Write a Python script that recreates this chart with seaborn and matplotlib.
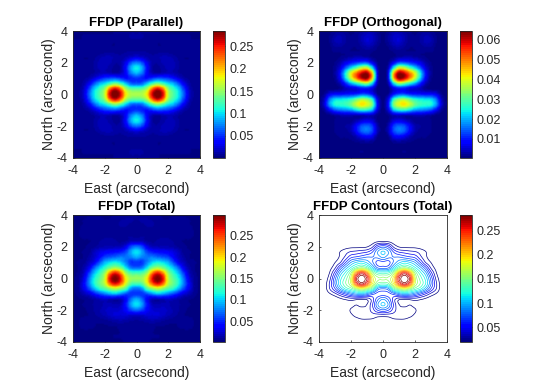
import numpy as np
import matplotlib
matplotlib.use('Agg')
import matplotlib.pyplot as plt
import seaborn as sns

# grid step is 1/3 arcsecond
# columns: x = 0 .. 4 (right half, the left half is the mirror image)
x_half = np.arange(13) / 3
ticks = [-4, -2, 0, 2, 4]

# parallel, in 1e-3, rows y = 0 .. 4 (same above and below)
parallel_half = np.array([
    [160, 160, 188, 262, 292, 262, 165, 128, 102, 62, 22, 8, 5],
    [130, 132, 158, 225, 258, 225, 148, 118, 92, 52, 18, 7, 5],
    [62, 64, 92, 122, 140, 122, 100, 85, 60, 30, 12, 6, 5],
    [50, 45, 40, 52, 60, 58, 52, 40, 25, 12, 8, 6, 5],
    [90, 72, 35, 15, 12, 15, 18, 15, 10, 7, 6, 5, 5],
    [105, 85, 40, 12, 8, 12, 15, 15, 10, 7, 6, 5, 5],
    [70, 58, 28, 12, 10, 15, 18, 15, 10, 6, 5, 5, 5],
    [25, 20, 14, 10, 12, 15, 15, 12, 8, 5, 5, 5, 5],
    [10, 10, 9, 8, 8, 8, 8, 6, 6, 8, 8, 5, 5],
    [6, 6, 6, 6, 5, 5, 5, 5, 6, 8, 8, 5, 5],
    [8, 8, 8, 6, 5, 5, 5, 5, 5, 5, 5, 5, 5],
    [10, 10, 8, 6, 5, 5, 5, 5, 5, 5, 5, 4, 4],
    [8, 8, 6, 5, 5, 4, 4, 4, 4, 4, 4, 4, 4],
])

# orthogonal, in 1e-4, rows y = 4 .. -4
orthogonal_half = np.array([
    [10, 15, 30, 30, 20, 15, 10, 15, 20, 15, 10, 10, 5],
    [10, 25, 45, 50, 35, 20, 15, 25, 35, 30, 15, 10, 5],
    [10, 25, 45, 55, 35, 20, 15, 25, 40, 35, 15, 10, 5],
    [8, 15, 30, 35, 25, 15, 15, 20, 25, 25, 12, 8, 5],
    [5, 10, 15, 20, 15, 15, 15, 15, 15, 15, 10, 5, 5],
    [5, 8, 15, 30, 35, 35, 30, 20, 15, 10, 8, 5, 5],
    [5, 15, 70, 130, 130, 110, 90, 65, 30, 15, 8, 5, 5],
    [8, 40, 230, 380, 370, 290, 220, 140, 60, 20, 8, 5, 5],
    [8, 70, 440, 620, 590, 500, 400, 240, 95, 25, 8, 5, 5],
    [8, 70, 440, 630, 600, 500, 380, 220, 85, 20, 8, 5, 5],
    [5, 35, 220, 340, 310, 250, 190, 110, 40, 12, 6, 5, 5],
    [5, 10, 60, 85, 85, 60, 50, 40, 18, 12, 10, 6, 5],
    [5, 20, 90, 130, 135, 110, 100, 95, 90, 90, 70, 20, 6],
    [10, 70, 260, 340, 360, 310, 260, 240, 230, 220, 160, 45, 8],
    [12, 90, 320, 400, 430, 380, 310, 270, 260, 250, 180, 55, 8],
    [8, 60, 200, 250, 260, 225, 185, 170, 160, 135, 80, 22, 5],
    [5, 15, 40, 45, 40, 35, 40, 40, 35, 25, 12, 6, 5],
    [5, 15, 55, 70, 55, 35, 20, 20, 20, 15, 10, 5, 5],
    [5, 35, 120, 150, 135, 85, 35, 25, 20, 15, 10, 8, 5],
    [5, 40, 130, 160, 145, 85, 35, 20, 18, 15, 10, 8, 5],
    [5, 15, 70, 85, 70, 40, 20, 15, 15, 12, 10, 8, 5],
    [5, 8, 20, 25, 20, 15, 12, 12, 12, 12, 10, 8, 5],
    [5, 5, 8, 10, 12, 10, 10, 10, 10, 10, 8, 5, 5],
    [5, 5, 6, 10, 15, 12, 10, 10, 10, 8, 6, 5, 5],
    [5, 5, 5, 6, 8, 8, 6, 6, 6, 5, 5, 5, 5],
])

# total, in 1e-3, rows y = 4 .. -4
total_half = np.array([
    [9, 10, 9, 8, 7, 6, 5, 6, 6, 6, 5, 5, 5],
    [11, 12, 12, 11, 9, 7, 7, 8, 9, 8, 7, 5, 5],
    [9, 10, 12, 12, 9, 7, 7, 8, 9, 9, 7, 6, 5],
    [7, 8, 9, 10, 8, 7, 7, 7, 9, 11, 9, 6, 5],
    [10, 11, 11, 10, 10, 10, 10, 8, 8, 10, 9, 6, 5],
    [19, 17, 12, 10, 12, 13, 13, 11, 9, 6, 6, 5, 5],
    [71, 60, 30, 18, 16, 16, 16, 14, 10, 8, 6, 5, 5],
    [106, 89, 60, 46, 42, 38, 35, 28, 20, 9, 7, 6, 5],
    [91, 78, 75, 76, 70, 64, 58, 38, 22, 13, 7, 6, 5],
    [56, 54, 78, 100, 112, 105, 90, 62, 33, 19, 9, 7, 6],
    [70, 74, 108, 145, 160, 145, 120, 95, 66, 31, 14, 7, 6],
    [130, 132, 162, 228, 262, 228, 158, 122, 94, 53, 20, 8, 6],
    [161, 162, 194, 268, 298, 268, 175, 138, 111, 70, 28, 10, 6],
    [132, 140, 186, 242, 272, 242, 172, 143, 116, 75, 35, 11, 6],
    [72, 82, 132, 155, 172, 155, 134, 118, 91, 58, 32, 11, 6],
    [56, 54, 62, 78, 92, 86, 74, 58, 42, 26, 16, 8, 6],
    [91, 73, 39, 19, 16, 19, 22, 19, 14, 9, 7, 6, 5],
    [106, 87, 45, 20, 17, 19, 17, 14, 12, 9, 7, 6, 5],
    [71, 61, 39, 26, 23, 23, 20, 15, 12, 8, 6, 6, 5],
    [24, 24, 26, 25, 26, 22, 17, 14, 10, 7, 6, 6, 5],
    [11, 12, 15, 16, 15, 12, 10, 8, 8, 9, 9, 6, 5],
    [7, 7, 8, 9, 7, 7, 6, 6, 7, 9, 9, 6, 5],
    [9, 9, 9, 7, 6, 6, 6, 6, 6, 6, 6, 6, 5],
    [11, 11, 9, 7, 7, 6, 6, 6, 6, 6, 6, 5, 5],
    [9, 9, 7, 6, 6, 5, 5, 5, 5, 5, 5, 4, 4],
])

titles = ['FFDP (Parallel)', 'FFDP (Orthogonal)', 'FFDP (Total)', 'FFDP Contours (Total)']
cbar_ticks = [
    [0.05, 0.1, 0.15, 0.2, 0.25],
    [0.01, 0.02, 0.03, 0.04, 0.05, 0.06],
    [0.05, 0.1, 0.15, 0.2, 0.25],
    [0.05, 0.1, 0.15, 0.2, 0.25],
]
color_ranges = [(0.0003, 0.2845), (0.0004, 0.0644), (0.002, 0.298), (0.019, 0.283)]
FINE = 4  # display cells per grid step


def mirror(half):
    return np.hstack([half[:, :0:-1], half])


def smooth(grid):
    # cubic resampling for display only, same job as shading interp in the original
    n = grid.shape[0]
    pos = np.arange((n - 1) * FINE + 1) / FINE
    i = np.minimum(pos.astype(int), n - 2)
    t = pos - i
    w = [(-t + 2 * t**2 - t**3) / 2, (2 - 5 * t**2 + 3 * t**3) / 2,
         (t + 4 * t**2 - 3 * t**3) / 2, (-t**2 + t**3) / 2]
    for axis in (0, 1):
        grid = sum(np.take(grid, np.clip(i + k - 1, 0, n - 1), axis=axis)
                   * (wk[:, None] if axis == 0 else wk[None, :])
                   for k, wk in enumerate(w))
    return grid


parallel = smooth(mirror(np.vstack([parallel_half[:0:-1], parallel_half])) * 1e-3)
orthogonal = smooth(mirror(orthogonal_half) * 1e-4)
total = smooth(mirror(total_half) * 1e-3)
n = total.shape[0] - 1
coords = np.linspace(-4, 4, n + 1)

sns.set_style('white')
plt.rcParams['font.family'] = ['Liberation Sans', 'DejaVu Sans']
cmap = plt.get_cmap('jet', 64)
W, H = 560, 389
fig = plt.figure(figsize=(W / 100, H / 100), dpi=100)

# pixel boxes of the panels (left, top, right, bottom) and of the colorbars
boxes = [(73, 31, 200, 158), (319, 31, 447, 158), (73, 215, 200, 342), (319, 215, 447, 342)]
cboxes = [(213, 31, 225, 158), (460, 31, 472, 158), (213, 215, 225, 342), (460, 215, 472, 342)]


def make_axes(box):
    left, top, right, bottom = box
    return fig.add_axes([left / W, 1 - bottom / H, (right - left) / W, (bottom - top) / H])


grids = [parallel, orthogonal, total]
for i, title in enumerate(titles):
    ax = make_axes(boxes[i])
    cax = make_axes(cboxes[i])
    vmin, vmax = color_ranges[i]
    if i < 3:
        sns.heatmap(grids[i], ax=ax, cbar_ax=cax, cmap=cmap, vmin=vmin, vmax=vmax,
                    xticklabels=False, yticklabels=False, shading='gouraud')
        ax.set_xlim(0, n)
        ax.set_ylim(n, 0)
        ax.set_xticks([(t + 4) * n / 8 for t in ticks])
        ax.set_yticks([(t + 4) * n / 8 for t in ticks])
        ax.set_yticklabels([str(t) for t in ticks[::-1]])
        cbar = ax.collections[0].colorbar
    else:
        levels = np.linspace(vmin, vmax, 20)
        ax.contour(coords, coords, total[::-1], levels=levels, cmap=cmap, linewidths=0.5)
        ax.set_xlim(-4, 4)
        ax.set_ylim(-4, 4)
        ax.set_xticks(ticks)
        ax.set_yticks(ticks)
        ax.set_yticklabels([str(t) for t in ticks])
        sm = plt.cm.ScalarMappable(norm=plt.Normalize(vmin, vmax), cmap=cmap)
        cbar = fig.colorbar(sm, cax=cax)
    ax.set_xticklabels([str(t) for t in ticks])
    ax.set_title(title, fontsize=9.5, fontweight='bold', color='black', pad=3.5)
    ax.set_xlabel('East (arcsecond)', fontsize=10, color='#262626', labelpad=4)
    ax.set_ylabel('North (arcsecond)', fontsize=10, color='#262626', labelpad=0)
    ax.tick_params(direction='in', length=1.5, width=0.5, labelsize=9,
                   labelcolor='#262626', color='#262626', pad=4, bottom=True, left=True)
    ax.tick_params(axis='x', pad=5)
    for spine in ax.spines.values():
        spine.set_visible(True)
        spine.set_linewidth(0.6)
        spine.set_color('#262626')
    cbar.set_ticks(cbar_ticks[i])
    cbar.set_ticklabels([str(t) for t in cbar_ticks[i]])
    cbar.ax.tick_params(direction='in', length=1.5, width=0.5, labelsize=9,
                        labelcolor='#262626', color='#262626', pad=3, right=True)
    cbar.outline.set_visible(True)
    cbar.outline.set_linewidth(0.6)
    cbar.outline.set_edgecolor('#262626')

fig.savefig('out.png', dpi=100)
